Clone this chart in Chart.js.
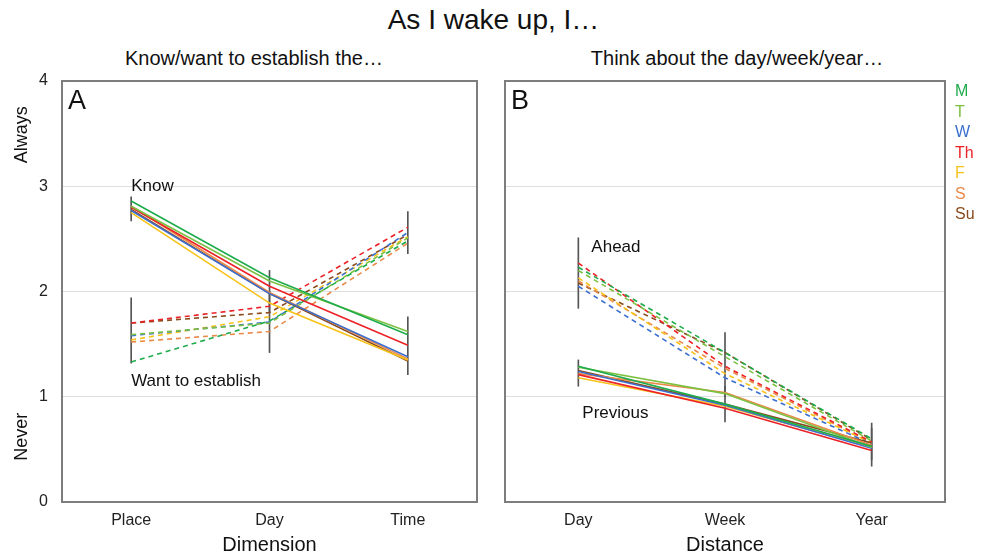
<!DOCTYPE html>
<html><head><meta charset="utf-8">
<script src="https://cdn.jsdelivr.net/npm/chart.js@4"></script>
<style>
body{margin:0;width:987px;height:554px;background:#fff;position:relative;overflow:hidden;font-family:"Liberation Sans",Arial,sans-serif;color:#111}
#title{position:absolute;left:0;width:987px;top:4px;text-align:center;font-size:28px;line-height:32px}
.sub{position:absolute;top:46px;font-size:20px;line-height:24px;text-align:center}
#wa{position:absolute;left:0;top:0;width:490px;height:560px}
#wb{position:absolute;left:490px;top:0;width:497px;height:560px}
#legend{position:absolute;left:955px;top:81px;font-size:16px;line-height:20.5px}
</style>
</head><body>
<div id="title">As I wake up, I…</div>
<div class="sub" style="left:94px;width:320px">Know/want to establish the…</div>
<div class="sub" style="left:577px;width:320px">Think about the day/week/year…</div>
<div id="wa"><canvas id="ca"></canvas></div>
<div id="wb"><canvas id="cb"></canvas></div>
<div id="legend"></div>
<script>
// ---- data ----
const days = ['M','T','W','Th','F','S','Su'];
const dayColors = ['#1eab4b','#7cc142','#3b6fcf','#ec2227','#f7c21a','#ea8a48','#8a4a1d'];
const catsA = ['Place','Day','Time'];
const catsB = ['Day','Week','Year'];
const yTicks = [0,1,2,3,4];

// Panel A: "Know" (solid) per weekday: Place, Day, Time
const knowA = [
  [2.86, 2.13, 1.59],
  [2.81, 2.10, 1.62],
  [2.77, 1.98, 1.38],
  [2.80, 2.05, 1.49],
  [2.75, 1.89, 1.35],
  [2.81, 1.99, 1.36],
  [2.78, 1.98, 1.34]
];
// Panel A: "Want to establish" (dashed)
const wantA = [
  [1.33, 1.72, 2.48],
  [1.59, 1.70, 2.51],
  [1.58, 1.71, 2.56],
  [1.70, 1.86, 2.61],
  [1.54, 1.76, 2.52],
  [1.52, 1.62, 2.46],
  [1.70, 1.80, 2.54]
];
// Panel B: "Ahead" (dashed) per weekday: Day, Week, Year
const aheadB = [
  [2.23, 1.42, 0.60],
  [2.20, 1.38, 0.58],
  [2.05, 1.18, 0.55],
  [2.27, 1.29, 0.57],
  [2.13, 1.22, 0.56],
  [2.10, 1.27, 0.56],
  [2.08, 1.42, 0.59]
];
// Panel B: "Previous" (solid)
const prevB = [
  [1.29, 0.93, 0.53],
  [1.28, 1.03, 0.52],
  [1.24, 0.92, 0.51],
  [1.21, 0.89, 0.49],
  [1.18, 0.91, 0.52],
  [1.22, 1.04, 0.54],
  [1.25, 0.93, 0.56]
];
// error ranges [low, high]
const errKnowA = [[2.67, 2.90], [1.80, 2.20], [1.21, 1.76]];
const errWantA = [[1.32, 1.94], [1.42, 2.00], [2.36, 2.76]];
const errAheadB = [[1.84, 2.51], [1.00, 1.61], [0.40, 0.75]];
const errPrevB = [[1.10, 1.35], [0.76, 1.10], [0.34, 0.70]];

// ---- legend ----
document.getElementById('legend').innerHTML =
  days.map((d,i)=>`<div style="color:${dayColors[i]}">${d}</div>`).join('');

const FONT = '"Liberation Sans", Arial, sans-serif';

function lineSets(rows, dashed){
  return rows.map((r,i)=>({
    type:'line', label: days[i] + (dashed?' dashed':''), data:r,
    borderColor: dayColors[i], backgroundColor: dayColors[i],
    borderWidth: 1.6, borderDash: dashed ? [5,4] : [],
    pointRadius: 0, tension: 0, fill:false, order: 1
  }));
}
function errSet(rows){
  return {type:'bar', label:'err', data: rows, backgroundColor:'#555',
    barThickness: 1, grouped:false, order: 10, borderSkipped:false};
}

const panelPlugin = {
  id:'panel',
  afterDraw(chart, args, o){
    const {ctx, chartArea:a, scales:{x, y}} = chart;
    ctx.save();
    ctx.strokeStyle = '#7d7d7d'; ctx.lineWidth = 2;
    ctx.strokeRect(a.left, a.top, a.right - a.left, a.bottom - a.top);
    ctx.fillStyle = '#111';
    ctx.textBaseline = 'middle'; ctx.textAlign = 'left';
    ctx.font = '27px ' + FONT;
    ctx.fillText(o.letter, a.left + 6, a.top + 21);
    ctx.font = '17px ' + FONT;
    o.notes.forEach(n=>{
      ctx.fillText(n.text, x.getPixelForValue(n.cat) + n.dx, y.getPixelForValue(n.val));
    });
    if (o.sideLabels){
      ctx.font = '18px ' + FONT; ctx.textAlign = 'center';
      o.sideLabels.forEach(s=>{
        ctx.save();
        ctx.translate(s.x, y.getPixelForValue(s.val));
        ctx.rotate(-Math.PI/2);
        ctx.fillText(s.text, 0, 0);
        ctx.restore();
      });
    }
    ctx.restore();
  }
};

function makeChart(id, cats, solidRows, dashRows, errs, xTitle, yShow, yWidth, padRight, pluginOpts){
  return new Chart(document.getElementById(id), {
    type:'line',
    data:{labels: cats, datasets: [
      ...lineSets(solidRows,false), ...lineSets(dashRows,true),
      ...errs.map(errSet)
    ]},
    options:{
      responsive:true, maintainAspectRatio:false, animation:false,
      layout:{padding:{top:81, right:padRight, bottom:0, left:0}},
      plugins:{legend:{display:false}, tooltip:{enabled:false}, panel: pluginOpts},
      scales:{
        x:{offset:true, grid:{display:false}, border:{display:false},
           ticks:{padding:1, color:'#222', font:{family:FONT, size:16}},
           title:{display:true, text:xTitle, color:'#111', font:{family:FONT, size:20}, padding:{top:0,bottom:3}},
           afterFit(s){ s.height = 58; }},
        y:{min:0, max:4, afterBuildTicks(s){ s.ticks = yTicks.map(v=>({value:v})); },
           grid:{drawTicks:false, color:c=>(c.tick.value===0||c.tick.value===4)?'rgba(0,0,0,0)':'#dedede', lineWidth:1},
           border:{display:false},
           ticks:{display:yShow, padding:14, color:'#222', font:{family:FONT, size:16}},
           afterFit(s){ s.width = yWidth; }}
      }
    },
    plugins:[panelPlugin]
  });
}

makeChart('ca', catsA, knowA, wantA, [errKnowA, errWantA], 'Dimension', true, 62, 13, {
  letter:'A',
  notes:[{text:'Know', cat:0, val:3.0, dx:0},{text:'Want to establish', cat:0, val:1.15, dx:0}],
  sideLabels:[{text:'Always', x:22, val:3.49},{text:'Never', x:22, val:0.62}]
});
makeChart('cb', catsB, prevB, aheadB, [errAheadB, errPrevB], 'Distance', false, 15, 42, {
  letter:'B',
  notes:[{text:'Ahead', cat:0, val:2.42, dx:13},{text:'Previous', cat:0, val:0.845, dx:4}]
});
</script>
</body></html>
